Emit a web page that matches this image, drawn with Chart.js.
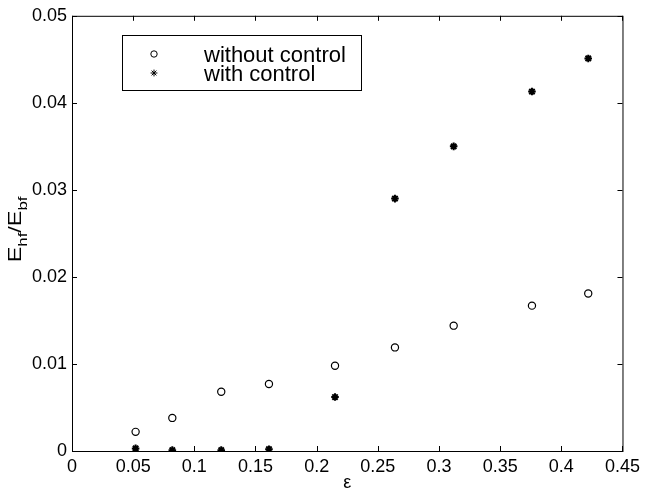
<!DOCTYPE html>
<html>
<head>
<meta charset="utf-8">
<script src="https://cdn.jsdelivr.net/npm/chart.js@4/dist/chart.umd.min.js"></script>
<style>
  body { margin: 0; background: #fff; }
  canvas { display: block; }
</style>
</head>
<body>
<canvas id="chart" width="645" height="496"></canvas>
<script>
// values
const epsilon = [0.052, 0.082, 0.122, 0.161, 0.215, 0.264, 0.312, 0.376, 0.422];
const withoutControl = [0.0022, 0.0038, 0.0068, 0.0077, 0.0098, 0.0119, 0.0144, 0.0167, 0.0181];
const withControl = [0.0003, 0.0001, 0.0001, 0.0002, 0.0062, 0.0290, 0.0350, 0.0413, 0.0451];
const seriesLabels = ['without control', 'with control'];
const xTicks = [0, 0.05, 0.1, 0.15, 0.2, 0.25, 0.3, 0.35, 0.4, 0.45];
const yTicks = [0, 0.01, 0.02, 0.03, 0.04, 0.05];

const FONT = 'Helvetica, Arial, "Liberation Sans", sans-serif';

function fmt(v) {
    return v === 0 ? '0' : String(parseFloat(v.toFixed(2)));
}

const frame = {
    id: 'frame',
    afterDraw(chart) {
        const ctx = chart.ctx;
        const a = chart.chartArea;
        const xs = chart.scales.x, ys = chart.scales.y;
        ctx.save();
        ctx.strokeStyle = '#000';
        ctx.lineWidth = 1;
        ctx.strokeRect(a.left + 0.5, a.top + 0.5, a.right - a.left, a.bottom - a.top);

        // inward ticks on all four sides
        const len = 5;
        ctx.beginPath();
        xTicks.forEach(v => {
            const px = Math.round(xs.getPixelForValue(v)) + 0.5;
            ctx.moveTo(px, a.bottom); ctx.lineTo(px, a.bottom - len);
            ctx.moveTo(px, a.top); ctx.lineTo(px, a.top + len);
        });
        yTicks.forEach(v => {
            const py = Math.round(ys.getPixelForValue(v)) + 0.5;
            ctx.moveTo(a.left, py); ctx.lineTo(a.left + len, py);
            ctx.moveTo(a.right, py); ctx.lineTo(a.right - len, py);
        });
        ctx.stroke();

        // legend box
        ctx.fillStyle = '#fff';
        ctx.fillRect(122, 35, 239, 55);
        ctx.strokeRect(122.5, 35.5, 239, 55);
        const rows = [62, 81];
        chart.data.datasets.forEach((ds, i) => {
            Chart.helpers.drawPoint(ctx, {
                pointStyle: ds.pointStyle,
                radius: ds.pointRadius - 0.4,
                borderWidth: ds.borderWidth
            }, 154, rows[i] - 8);
            ctx.fillStyle = '#000';
            ctx.font = '22px ' + FONT;
            ctx.textAlign = 'left';
            ctx.textBaseline = 'alphabetic';
            ctx.fillText(ds.label, 204, rows[i]);
        });

        // x title
        ctx.fillStyle = '#000';
        ctx.font = '18px ' + FONT;
        ctx.textAlign = 'center';
        ctx.fillText('\u03b5', (a.left + a.right) / 2, 488);

        // y title E_hf / E_bf
        const parts = [['E', 18, 0], ['hf', 13, 6], ['/', 18, 0], ['E', 18, 0], ['bf', 13, 6]];
        ctx.translate(21, (a.top + a.bottom) / 2 - 4);
        ctx.rotate(-Math.PI / 2);
        ctx.scale(1.3, 1);
        ctx.textAlign = 'left';
        let total = 0;
        parts.forEach(p => { ctx.font = p[1] + 'px ' + FONT; total += ctx.measureText(p[0]).width; });
        let x = -total / 2;
        parts.forEach(p => {
            ctx.font = p[1] + 'px ' + FONT;
            ctx.fillText(p[0], x, p[2]);
            x += ctx.measureText(p[0]).width;
        });
        ctx.restore();
    }
};

new Chart(document.getElementById('chart').getContext('2d'), {
    type: 'scatter',
    data: {
        datasets: [
            {
                label: seriesLabels[0],
                data: epsilon.map((e, i) => ({ x: e, y: withoutControl[i] })),
                pointStyle: 'circle',
                pointRadius: 3.6,
                borderWidth: 1.2,
                borderColor: '#000',
                backgroundColor: '#fff'
            },
            {
                label: seriesLabels[1],
                data: epsilon.map((e, i) => ({ x: e, y: withControl[i] })),
                pointStyle: 'star',
                pointRadius: 3.8,
                borderWidth: 2,
                borderColor: '#000',
                backgroundColor: '#000',
                clip: 0
            }
        ]
    },
    options: {
        responsive: false,
        animation: false,
        layout: { padding: { top: 15, right: 20, left: 0, bottom: 0 } },
        plugins: { legend: { display: false }, tooltip: { enabled: false } },
        scales: {
            x: {
                type: 'linear',
                min: 0, max: 0.45,
                afterFit: s => { s.height = 45; },
                afterBuildTicks: s => { s.ticks = xTicks.map(v => ({ value: v })); },
                grid: { display: false, drawTicks: false },
                border: { display: false },
                ticks: {
                    padding: 5,
                    color: '#000',
                    font: { family: FONT, size: 18 },
                    maxRotation: 0,
                    autoSkip: false,
                    callback: v => fmt(v)
                }
            },
            y: {
                type: 'linear',
                min: 0, max: 0.05,
                afterFit: s => { s.width = 72; },
                afterBuildTicks: s => { s.ticks = yTicks.map(v => ({ value: v })); },
                grid: { display: false, drawTicks: false },
                border: { display: false },
                ticks: {
                    padding: 5,
                    color: '#000',
                    font: { family: FONT, size: 18 },
                    autoSkip: false,
                    callback: v => fmt(v)
                }
            }
        }
    },
    plugins: [frame]
});
</script>
</body>
</html>
